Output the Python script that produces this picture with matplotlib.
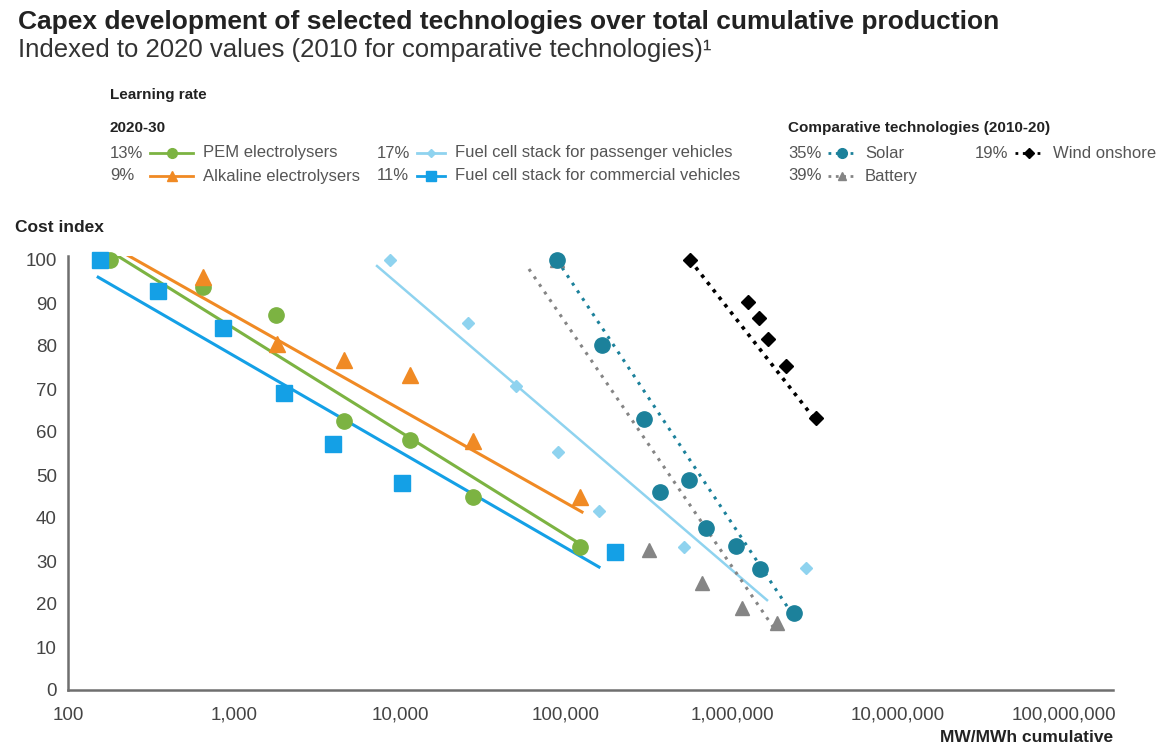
import matplotlib

matplotlib.use("Agg")
import matplotlib.pyplot as plt
from matplotlib.lines import Line2D
from matplotlib.ticker import FixedLocator, NullLocator

plt.rcParams["font.family"] = ["Liberation Sans", "DejaVu Sans"]

# --- data (index vs cumulative MW/MWh) ---
pem_x = [179, 650, 1790, 4600, 11480, 27500, 121400]
pem_y = [100, 93.7, 87.2, 62.6, 58.1, 44.9, 33.3]
pem_fit_x = [187, 124800]
pem_fit_y = [101.6, 33.7]

alk_x = [650, 1815, 4600, 11480, 27500, 121400]
alk_y = [96, 80.5, 76.7, 73.3, 57.9, 44.9]
alk_fit_x = [206, 124800]
alk_fit_y = [102.1, 41.4]

fcp_x = [8710, 25700, 50000, 89500, 158000, 514000, 2790000]
fcp_y = [100, 85.3, 70.7, 55.3, 41.6, 33.3, 28.4]
fcp_fit_x = [7270, 1625000]
fcp_fit_y = [98.6, 20.9]

fcc_x = [156, 348, 859, 2000, 3950, 10280, 197000]
fcc_y = [100, 92.8, 84.2, 69.1, 57.2, 48.1, 32.1]
fcc_fit_x = [152, 158000]
fcc_fit_y = [96, 28.6]

solar_x = [88300, 165000, 295000, 368000, 551000, 697000, 1057000, 1475000, 2362000]
solar_y = [100, 80.2, 63.0, 46.0, 48.8, 37.7, 33.5, 28.1, 17.9]
solar_fit_x = [88300, 2432000]
solar_fit_y = [100, 16.3]

battery_x = [88300, 316000, 659000, 1148000, 1866000]
battery_y = [100, 32.6, 24.9, 19.1, 15.6]
battery_fit_x = [59800, 1766000]
battery_fit_y = [97.9, 14.7]

wind_x = [558000, 1248000, 1455000, 1648000, 2114000, 3207000]
wind_y = [100, 90.2, 86.5, 81.6, 75.3, 63.3]
wind_fit_x = [558000, 3300000]
wind_fit_y = [100, 62.0]

xticks = [1e2, 1e3, 1e4, 1e5, 1e6, 1e7, 1e8]
xtick_labels = ["100", "1,000", "10,000", "100,000", "1,000,000", "10,000,000", "100,000,000"]
yticks = [0, 10, 20, 30, 40, 50, 60, 70, 80, 90, 100]

GREEN = "#7cb342"
ORANGE = "#f08a24"
LIGHT = "#8fd3ef"
BLUE = "#14a0e6"
TEAL = "#1c819b"
GREY = "#858585"
BLACK = "#000000"
TXT = "#444444"

fig = plt.figure(figsize=(11.71, 7.48), dpi=100)
ax = fig.add_axes([68 / 1171, 1 - 690 / 748, 1045 / 1171, 434.3 / 748])

# trend lines
ax.plot(fcc_fit_x, fcc_fit_y, color=BLUE, lw=2.2, zorder=2)
ax.plot(pem_fit_x, pem_fit_y, color=GREEN, lw=2.2, zorder=2)
ax.plot(alk_fit_x, alk_fit_y, color=ORANGE, lw=2.2, zorder=2)
ax.plot(fcp_fit_x, fcp_fit_y, color=LIGHT, lw=1.8, zorder=2)
ax.plot(battery_fit_x, battery_fit_y, color=GREY, lw=2.2, ls=(0, (1, 2)), zorder=2)
ax.plot(solar_fit_x, solar_fit_y, color=TEAL, lw=2.2, ls=(0, (1, 2)), zorder=2)
ax.plot(wind_fit_x, wind_fit_y, color=BLACK, lw=2.6, ls=(0, (1, 1.6)), zorder=2)

# points
pts = dict(ls="none", clip_on=False)
ax.plot(battery_x, battery_y, "^", color=GREY, ms=10, zorder=3, **pts)
ax.plot(pem_x, pem_y, "o", color=GREEN, ms=11, zorder=3, **pts)
ax.plot(alk_x, alk_y, "^", color=ORANGE, ms=11, zorder=4, **pts)
ax.plot(fcp_x, fcp_y, "D", color=LIGHT, ms=6.5, zorder=3, **pts)
ax.plot(fcc_x, fcc_y, "s", color=BLUE, ms=12, zorder=4, **pts)
ax.plot(solar_x, solar_y, "o", color=TEAL, ms=11, zorder=4, **pts)
ax.plot(wind_x, wind_y, "D", color=BLACK, ms=7.5, zorder=4, **pts)

ax.set_xscale("log")
ax.set_xlim(100, 10 ** 8.295)
ax.set_ylim(0, 101)
ax.xaxis.set_major_locator(FixedLocator(xticks))
ax.xaxis.set_minor_locator(NullLocator())
ax.set_xticklabels(xtick_labels)
ax.set_yticks(yticks)
ax.tick_params(axis="both", length=0, labelsize=13.5, colors=TXT)
ax.tick_params(axis="x", pad=12)
ax.tick_params(axis="y", pad=8)
for s in ("top", "right"):
    ax.spines[s].set_visible(False)
for s in ("left", "bottom"):
    ax.spines[s].set_color("#6f6f6f")
    ax.spines[s].set_linewidth(1.8)

# titles
fig.text(18 / 1171, 1 - 22 / 748, "Capex development of selected technologies over total cumulative production",
         fontsize=19, fontweight="bold", color="#222222", va="center")
fig.text(18 / 1171, 1 - 50 / 748, "Indexed to 2020 values (2010 for comparative technologies)\u00b9",
         fontsize=18.5, color="#333333", va="center")
fig.text(15 / 1171, 1 - 228 / 748, "Cost index", fontsize=12.5, fontweight="bold", color="#222222", va="center")
fig.text(1113 / 1171, 1 - 738 / 748, "MW/MWh cumulative", fontsize=12.5, fontweight="bold",
         color="#222222", ha="right", va="center")

# legend
fig.text(110 / 1171, 1 - 95 / 748, "Learning rate", fontsize=11, fontweight="bold", color="#222222", va="center")
fig.text(110 / 1171, 1 - 128 / 748, "2020-30", fontsize=11, fontweight="bold", color="#222222", va="center")
fig.text(788 / 1171, 1 - 128 / 748, "Comparative technologies (2010-20)", fontsize=11, fontweight="bold",
         color="#222222", va="center")

legend_items = [
    (110, 203, 153, "13%", GREEN, "-", "o", 7, "PEM electrolysers"),
    (110, 203, 176, "9%", ORANGE, "-", "^", 7, "Alkaline electrolysers"),
    (377, 455, 153, "17%", LIGHT, "-", "D", 4.5, "Fuel cell stack for passenger vehicles"),
    (377, 455, 176, "11%", BLUE, "-", "s", 7, "Fuel cell stack for commercial vehicles"),
    (788, 865, 153, "35%", TEAL, ":", "o", 7, "Solar"),
    (788, 865, 176, "39%", GREY, ":", "^", 6, "Battery"),
    (975, 1053, 153, "19%", BLACK, ":", "D", 5, "Wind onshore"),
]
for px, lx, py, pct, col, ls, mk, ms, label in legend_items:
    y = 1 - py / 748
    fig.text(px / 1171, y, pct, fontsize=12, color="#555555", va="center")
    x0, x1 = (px + 40) / 1171, (lx - 10) / 1171
    fig.add_artist(Line2D([x0, x1], [y, y], color=col, lw=2, ls=ls, transform=fig.transFigure))
    fig.add_artist(Line2D([(x0 + x1) / 2], [y], color=col, marker=mk, ms=ms, transform=fig.transFigure))
    fig.text(lx / 1171, y, label, fontsize=12, color="#555555", va="center")

fig.savefig("out.png", dpi=100)
